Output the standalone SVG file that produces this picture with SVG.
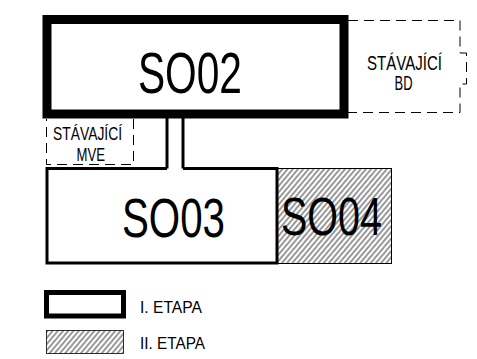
<svg xmlns="http://www.w3.org/2000/svg" width="477" height="359" viewBox="0 0 477 359">
<style>
text{font-family:"Liberation Sans",Arial,sans-serif;fill:#000}
.dash{fill:none;stroke:#000;stroke-width:1;stroke-dasharray:10,6}
.thick{fill:#fff;stroke:#000}
</style>
<defs>
<pattern id="hatch" patternUnits="userSpaceOnUse" width="4" height="10" patternTransform="rotate(40)">
<line x1="1" y1="0" x2="1" y2="10" stroke="#000" stroke-width="0.8"/>
</pattern>
</defs>
<rect width="477" height="359" fill="#fff"/>
<g id="connectors">
<line x1="167" y1="118" x2="167" y2="169.5" stroke="#000" stroke-width="3"/>
<line x1="183" y1="118" x2="183" y2="169.5" stroke="#000" stroke-width="3"/>
</g>
<g id="bd">
<path class="dash" d="M348,20.5 H460 V53 H466.5 V84 H460 V112.5 H348"/>
<text x="367" y="70" font-size="20" textLength="75" lengthAdjust="spacingAndGlyphs">STÁVAJÍCÍ</text>
<text x="394.5" y="90" font-size="20" textLength="18" lengthAdjust="spacingAndGlyphs">BD</text>
</g>
<g id="so02">
<rect class="thick" x="47" y="19.5" width="297" height="94.5" stroke-width="9"/>
<text x="138" y="93" font-size="58" textLength="104" lengthAdjust="spacingAndGlyphs">SO02</text>
</g>
<g id="mve">
<path class="dash" d="M133.5,119 V164.5 H46.5 V119" stroke-dasharray="8,5"/>
<text x="53" y="139.5" font-size="18" textLength="69" lengthAdjust="spacingAndGlyphs">STÁVAJÍCÍ</text>
<text x="76.5" y="161" font-size="18" textLength="28.5" lengthAdjust="spacingAndGlyphs">MVE</text>
</g>
<g id="so04">
<rect x="277" y="168.5" width="114.5" height="95" fill="url(#hatch)" stroke="#000" stroke-width="1"/>
<text x="281" y="235" font-size="53" textLength="101" lengthAdjust="spacingAndGlyphs">SO04</text>
</g>
<g id="so03">
<path d="M167,168.5 H47 V263 H277 V168.5 H183" fill="#fff" stroke="#000" stroke-width="3"/>
<text x="122" y="237" font-size="55" textLength="103" lengthAdjust="spacingAndGlyphs">SO03</text>
</g>
<g id="legend1">
<rect class="thick" x="46.5" y="292.5" width="77" height="23.5" stroke-width="5"/>
<text x="140" y="313" font-size="16.5" textLength="62" lengthAdjust="spacingAndGlyphs">I. ETAPA</text>
</g>
<g id="legend2">
<rect x="46.5" y="330.5" width="77" height="23" fill="url(#hatch)" stroke="#000" stroke-width="0.8"/>
<text x="140" y="348.5" font-size="16.5" textLength="65" lengthAdjust="spacingAndGlyphs">II. ETAPA</text>
</g>
</svg>
